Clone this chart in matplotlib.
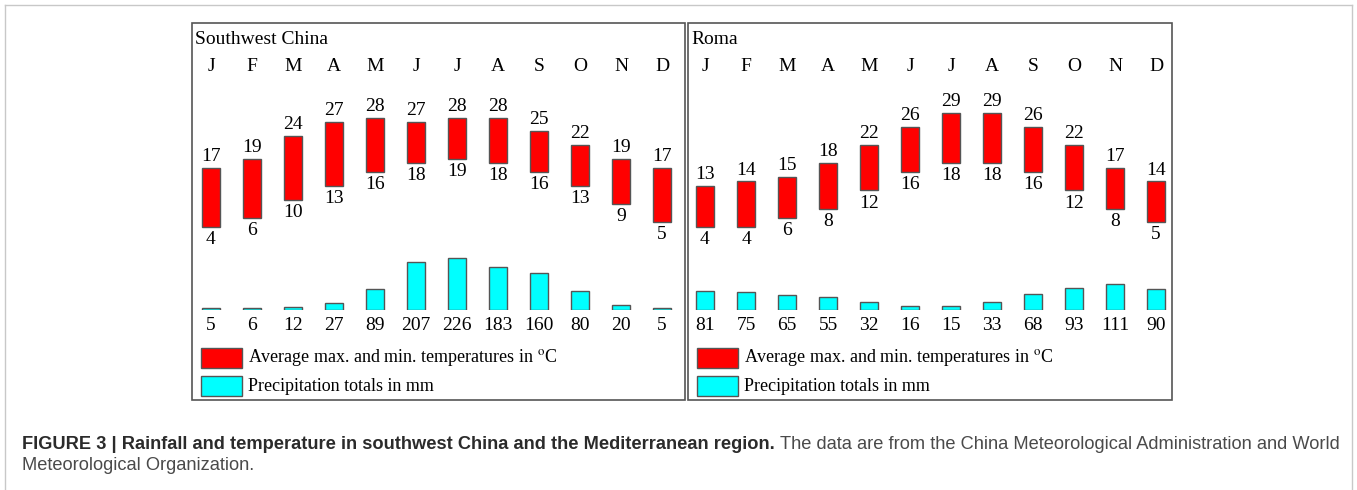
import numpy as np
import matplotlib
matplotlib.use("Agg")
import matplotlib.pyplot as plt
import matplotlib.transforms as mtransforms
from matplotlib.patches import Rectangle

plt.rcParams['font.family'] = ['Liberation Serif', 'DejaVu Serif']
plt.rcParams['mathtext.fontset'] = 'stix'

months = ["J", "F", "M", "A", "M", "J", "J", "A", "S", "O", "N", "D"]

china_tmax = [17, 19, 24, 27, 28, 27, 28, 28, 25, 22, 19, 17]
china_tmin = [4, 6, 10, 13, 16, 18, 19, 18, 16, 13, 9, 5]
china_prec = [5, 6, 12, 27, 89, 207, 226, 183, 160, 80, 20, 5]

roma_tmax = [13, 14, 15, 18, 22, 26, 29, 29, 26, 22, 17, 14]
roma_tmin = [4, 4, 6, 8, 12, 16, 18, 18, 16, 12, 8, 5]
roma_prec = [81, 75, 65, 55, 32, 16, 15, 33, 68, 93, 111, 90]

W, H = 1357, 490
fig = plt.figure(figsize=(W / 100, H / 100), dpi=100)


def fx(px):
    return px / W


def fy(py):
    return 1 - py / H


def rect_px(x0, y0, x1, y1):
    # figure fraction rect from pixel box
    return [fx(x0), fy(y1), fx(x1) - fx(x0), fy(y0) - fy(y1)]


# outer light frame
fig.add_artist(plt.Line2D([fx(5), fx(1352)], [fy(5), fy(5)], color='#c8c8c8', lw=1))
fig.add_artist(plt.Line2D([fx(5), fx(5)], [fy(5), 0], color='#c8c8c8', lw=1))
fig.add_artist(plt.Line2D([fx(1352), fx(1352)], [fy(5), 0], color='#c8c8c8', lw=1))

edge = '#555555'
fs = 14


def panel(x0, x1, first_c, title, tmax, tmin, prec):
    # frame
    fig.add_artist(Rectangle((fx(x0), fy(400)), fx(x1) - fx(x0), fy(23) - fy(400),
                             transform=fig.transFigure, fill=False, ec=edge, lw=1.2))
    fig.text(fx(x0 + 3), fy(39), title, fontsize=fs, va='center', ha='left')

    step = 41
    left = first_c - step / 2
    right = first_c + 11 * step + step / 2
    x = np.arange(12)

    # temperature axes: 0 degC at y=245 px, 4.55 px per degree
    tz, ts = 245, 4.55
    ax_t = fig.add_axes(rect_px(left, tz - 32 * ts, right, tz))
    ax_t.set_xlim(-0.5, 11.5)
    ax_t.set_ylim(0, 32)
    ax_t.axis('off')
    ax_t.bar(x, np.array(tmax) - np.array(tmin), bottom=tmin, width=0.42,
             color='#ff0000', edgecolor=edge, linewidth=1)
    for i in range(12):
        ax_t.annotate(str(tmax[i]), (x[i], tmax[i]), xytext=(0, 2),
                      textcoords='offset points', ha='center', va='bottom', fontsize=fs)
        ax_t.annotate(str(tmin[i]), (x[i], tmin[i]), xytext=(0, -3),
                      textcoords='offset points', ha='center', va='top', fontsize=fs)

    # precipitation axes: baseline at 309.5 px, 0.23 px per mm
    pz, ps = 309.5, 0.23
    ax_p = fig.add_axes(rect_px(left, pz - 250 * ps, right, pz))
    ax_p.set_xlim(-0.5, 11.5)
    ax_p.set_ylim(0, 250)
    ax_p.axis('off')
    ax_p.bar(x, prec, width=0.42, color='#00ffff', edgecolor=edge, linewidth=1)

    tr = mtransforms.blended_transform_factory(ax_t.transData, fig.transFigure)
    for i in range(12):
        fig.text(x[i], fy(66), months[i], transform=tr, ha='center', va='center', fontsize=fs)
        fig.text(x[i], fy(325), str(prec[i]), transform=tr, ha='center', va='center', fontsize=fs)

    # legend
    lx = x0 + 9
    lfs = 13
    fig.add_artist(Rectangle((fx(lx), fy(368)), fx(41), fy(348) - fy(368),
                             transform=fig.transFigure, fc='#ff0000', ec=edge, lw=1))
    fig.text(fx(lx + 47), fy(358), r"Average max. and min. temperatures in $^{\mathrm{o}}$C",
             fontsize=lfs, va='center', ha='left')
    fig.add_artist(Rectangle((fx(lx), fy(396)), fx(41), fy(376) - fy(396),
                             transform=fig.transFigure, fc='#00ffff', ec=edge, lw=1))
    fig.text(fx(lx + 47), fy(386), "Precipitation totals in mm",
             fontsize=lfs, va='center', ha='left')


panel(192, 685, 211, "Southwest China", china_tmax, china_tmin, china_prec)
panel(688, 1172, 705, "Roma", roma_tmax, roma_tmin, roma_prec)

# caption, sized so that the first line ends near x=1340 px
cap_font = ['Liberation Sans', 'DejaVu Sans']
cfs = 13
r = fig.canvas.get_renderer()
t1 = fig.text(fx(22), fy(449), "FIGURE 3 | Rainfall and temperature in southwest China and the Mediterranean region.",
              family=cap_font, fontweight='bold', fontsize=cfs, color='#2b2b2b', va='baseline', ha='left')
t2 = fig.text(0, fy(449), "The data are from the China Meteorological Administration and World",
              family=cap_font, fontsize=cfs, color='#4a4a4a', va='baseline', ha='left')
for _ in range(3):
    b1 = t1.get_window_extent(r)
    t2.set_x((b1.x1 + 5) / W)
    b2 = t2.get_window_extent(r)
    cfs = cfs * (1340 - 22) / (b2.x1 - 22)
    t1.set_fontsize(cfs)
    t2.set_fontsize(cfs)
b1 = t1.get_window_extent(r)
t2.set_x((b1.x1 + 5) / W)
fig.text(fx(22), fy(470), "Meteorological Organization.",
         family=cap_font, fontsize=cfs, color='#4a4a4a', va='baseline', ha='left')

fig.savefig("out.png", dpi=100)
